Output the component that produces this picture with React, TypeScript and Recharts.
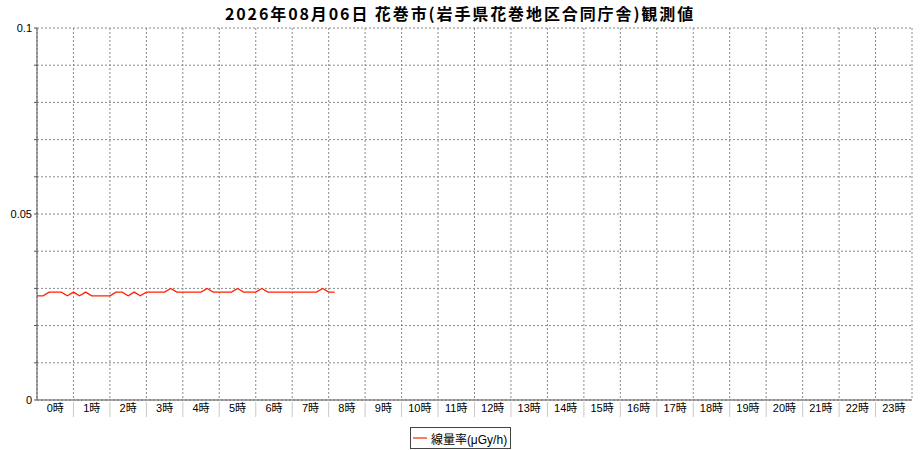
import React from "react";
import {
  CartesianGrid,
  Legend,
  Line,
  LineChart,
  XAxis,
  YAxis,
} from "recharts";

document.body.style.margin = "0";

// 10-minute readings from 0:00 to 8:10 (μGy/h)
const DOSE_VALUES = [
  0.028, 0.028, 0.029, 0.029, 0.029, 0.028, 0.029, 0.028, 0.029, 0.028,
  0.028, 0.028, 0.028, 0.029, 0.029, 0.028, 0.029, 0.028, 0.029, 0.029,
  0.029, 0.029, 0.03, 0.029, 0.029, 0.029, 0.029, 0.029, 0.03, 0.029,
  0.029, 0.029, 0.029, 0.03, 0.029, 0.029, 0.029, 0.03, 0.029, 0.029,
  0.029, 0.029, 0.029, 0.029, 0.029, 0.029, 0.029, 0.03, 0.029, 0.029,
];

const HOUR_LABELS = [
  "0時", "1時", "2時", "3時", "4時", "5時", "6時", "7時", "8時", "9時",
  "10時", "11時", "12時", "13時", "14時", "15時", "16時", "17時", "18時",
  "19時", "20時", "21時", "22時", "23時",
];

const Y_TICKS = [0, 0.01, 0.02, 0.03, 0.04, 0.05, 0.06, 0.07, 0.08, 0.09, 0.1];
const Y_LABELS = ["0", "", "", "", "", "0.05", "", "", "", "", "0.1"];

const SLOTS_PER_HOUR = 6;
const HOUR_TICKS = [...HOUR_LABELS.map((_, i) => i * SLOTS_PER_HOUR), 24 * SLOTS_PER_HOUR];
const LABEL_TICKS = HOUR_LABELS.map((_, i) => i * SLOTS_PER_HOUR + SLOTS_PER_HOUR / 2);

const data = DOSE_VALUES.map((value, slot) => ({ slot, value }));

const FONT = "'Liberation Sans', Arial, 'Noto Sans CJK JP', sans-serif";

function Separator(props: any) {
  const v = props.payload.value;
  if (v === 0 || v === 24 * SLOTS_PER_HOUR) return <g />;
  return (
    <line x1={props.x} x2={props.x} y1={props.y + 2} y2={props.y + 17} stroke="#c8c8c8" />
  );
}

function LegendBox() {
  return (
    <div style={{ display: "flex", justifyContent: "center", paddingLeft: 9 }}>
      <div
        style={{
          display: "flex",
          alignItems: "center",
          border: "1px solid #444",
          height: 20,
          padding: "0 3px 0 2px",
          fontFamily: FONT,
          fontSize: 12,
          color: "#000",
          background: "#fff",
        }}
      >
        <svg width={14} height={4} style={{ marginRight: 4 }}>
          <line x1={0} x2={14} y1={2} y2={2} stroke="#ff2200" strokeWidth={1.2} />
        </svg>
        線量率(μGy/h)
      </div>
    </div>
  );
}

export default function App() {
  return (
    <div style={{ position: "relative", width: 920, height: 450, background: "#fff" }}>
      <div
        style={{
          position: "absolute",
          top: 3,
          left: 0,
          width: 920,
          textAlign: "center",
          fontFamily: "'Noto Sans CJK JP', sans-serif",
          fontWeight: "bold",
          fontSize: 16,
          letterSpacing: 1.9,
          lineHeight: "20px",
          color: "#000",
        }}
      >
        2026年08月06日 花巻市(岩手県花巻地区合同庁舎)観測値
      </div>
      <LineChart
        width={920}
        height={450}
        data={data}
        margin={{ top: 28, right: 8, bottom: 1, left: 0 }}
        style={{ position: "absolute", top: 0, left: 0 }}
      >
        <CartesianGrid stroke="#8a8a8a" strokeDasharray="2 2" />
        <XAxis
          dataKey="slot"
          type="number"
          domain={[0, 24 * SLOTS_PER_HOUR]}
          ticks={HOUR_TICKS}
          interval={0}
          height={1}
          tickSize={0}
          tickMargin={0}
          tickLine={false}
          tick={<Separator />}
          stroke="#555"
        />
        <XAxis
          xAxisId="labels"
          dataKey="slot"
          type="number"
          domain={[0, 24 * SLOTS_PER_HOUR]}
          ticks={LABEL_TICKS}
          interval={0}
          height={26}
          axisLine={false}
          tickLine={false}
          tickSize={0}
          tickMargin={3}
          tickFormatter={(v: number) => HOUR_LABELS[(v - SLOTS_PER_HOUR / 2) / SLOTS_PER_HOUR]}
          tick={{ fontSize: 11, fill: "#000", fontFamily: FONT }}
        />
        <YAxis
          type="number"
          domain={[0, 0.1]}
          ticks={Y_TICKS}
          interval={0}
          width={37}
          tickSize={3}
          tickMargin={2}
          stroke="#555"
          tickFormatter={(v: number, i: number) => Y_LABELS[i]}
          tick={{ fontSize: 11, fill: "#000", fontFamily: FONT }}
        />
        <Legend verticalAlign="bottom" content={<LegendBox />} />
        <Line
          dataKey="value"
          type="linear"
          stroke="#ff2200"
          strokeWidth={1.3}
          dot={false}
          isAnimationActive={false}
        />
      </LineChart>
    </div>
  );
}
